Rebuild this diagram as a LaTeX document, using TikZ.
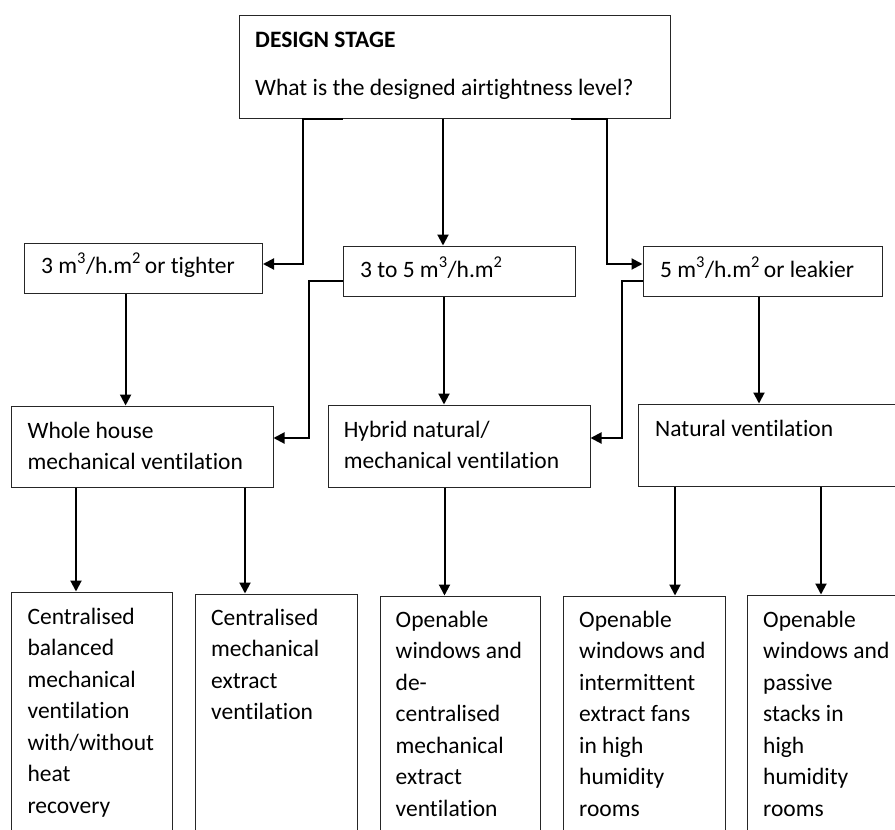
\documentclass[tikz,border=0pt]{standalone}
\usepackage{fontspec}
\setmainfont{Carlito}[Ligatures=NoCommon]
\usetikzlibrary{arrows.meta,fit}
\begin{document}
\begin{tikzpicture}[x=1pt,y=-1pt,
  box/.style={draw=black!85, line width=1pt, inner sep=0pt},
  conn/.style={line width=2pt, -{Triangle[length=11pt,width=11pt]}},
  lbl/.style={inner sep=0pt, anchor=base west, align=left, font=\fontsize{23.5}{31.5}\selectfont},
  lbltwo/.style={lbl, font=\fontsize{23.5}{31}\selectfont}]
\useasboundingbox (0,0) rectangle (895,830);
\clip (0,0) rectangle (895,830);
% boxes
\node[box, fit={(239,15.3) (670,118.3)}] (top) {};
\node[box, fit={(24.5,243) (262.5,293)}] (A) {};
\node[box, fit={(343,246) (575,296)}] (B) {};
\node[box, fit={(643,246) (882,296)}] (C) {};
\node[box, fit={(11.4,406) (273,487)}] (WH) {};
\node[box, fit={(328,405) (590,487)}] (HY) {};
\node[box, fit={(638,404) (905,486)}] (NV) {};
\node[box, fit={(11.4,592) (172.4,870)}] (B1) {};
\node[box, fit={(195,594) (357,870)}] (B2) {};
\node[box, fit={(380,596) (540.5,870)}] (B3) {};
\node[box, fit={(563.4,596) (725,870)}] (B4) {};
\node[box, fit={(747,595) (915,870)}] (B5) {};
% texts (base anchor = baseline of the last line)
\node[lbl] (ttop1) at (255,47) {\bfseries DESIGN STAGE};
\node[lbl] (ttop2) at (255,95) {What is the designed airtightness level?};
\node[lbl] (tA) at (41,273) {3 m\textsuperscript{3}/h.m\textsuperscript{2}\,or tighter};
\node[lbl] (tB) at (360,277) {3 to 5 m\textsuperscript{3}/h.m\textsuperscript{2}};
\node[lbl] (tC) at (660,277) {5 m\textsuperscript{3}/h.m\textsuperscript{2}\,or leakier};
\node[lbltwo] (tWH) at (27.4,469) {Whole house\\mechanical ventilation};
\node[lbltwo] (tHY) at (343.6,468) {Hybrid natural/\\mechanical ventilation};
\node[lbl] (tNV) at (655,436) {Natural ventilation};
\node[lbl] (tB1) at (27.4,813) {Centralised\\balanced\\mechanical\\ventilation\\with/without\\heat\\recovery};
\node[lbl] (tB2) at (211,719.5) {Centralised\\mechanical\\extract\\ventilation};
\node[lbl] (tB3) at (395.5,816) {Openable\\windows and\\de-\\centralised\\mechanical\\extract\\ventilation};
\node[lbl] (tB4) at (579,816) {Openable\\windows and\\intermittent\\extract fans\\in high\\humidity\\rooms};
\node[lbl] (tB5) at (763,816) {Openable\\windows and\\passive\\stacks in\\high\\humidity\\rooms};
% helper x positions
\coordinate (xm) at (443,0);
\coordinate (xa) at (125.6,0);
\coordinate (xb) at (444,0);
\coordinate (xc) at (759,0);
\coordinate (x1) at (76,0);
\coordinate (x2) at (245,0);
\coordinate (x3) at (444.5,0);
\coordinate (x4) at (675,0);
\coordinate (x5) at (821,0);
% connectors level 1 -> 2
\draw[conn] (top.south west) ++(104,0) -- ++(-40,0) |- ([yshift=4pt]A.east);
\draw[conn] (top.south -| xm) -- (B.north -| xm);
\draw[conn] (top.south west) ++(332,0) -- ++(36,0) |- ([yshift=7pt]C.west);
% level 2 -> 3
\draw[conn] ([yshift=-10pt]B.west) -- ++(-34,0) |- ([yshift=8.5pt]WH.east);
\draw[conn] (A.south -| xa) -- (WH.north -| xa);
\draw[conn] (B.south -| xb) -- (HY.north -| xb);
\draw[conn] ([yshift=-10pt]C.west) -- ++(-21,0) |- ([yshift=8pt]HY.east);
\draw[conn] (C.south -| xc) -- (NV.north -| xc);
% level 3 -> 4
\draw[conn] (WH.south -| x1) -- (B1.north -| x1);
\draw[conn] (WH.south -| x2) -- (B2.north -| x2);
\draw[conn] (HY.south -| x3) -- (B3.north -| x3);
\draw[conn] (NV.south -| x4) -- (B4.north -| x4);
\draw[conn] (NV.south -| x5) -- (B5.north -| x5);
\end{tikzpicture}
\end{document}
